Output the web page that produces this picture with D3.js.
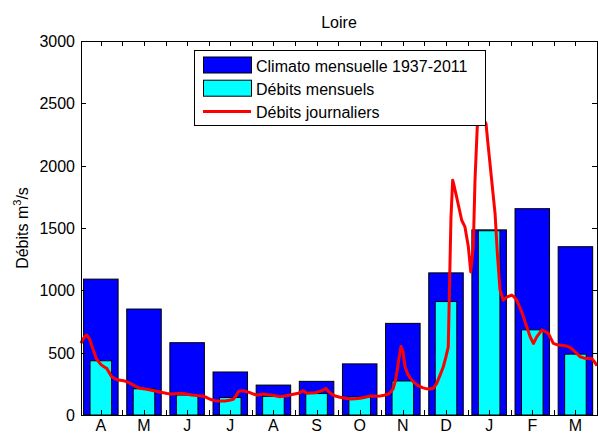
<!DOCTYPE html>
<html>
<head>
<meta charset="utf-8">
<script src="https://cdn.jsdelivr.net/npm/d3@7"></script>
<style>
  html, body { margin: 0; padding: 0; background: #fff; }
  svg { display: block; font-family: "Liberation Sans", Arial, Helvetica, sans-serif; }
</style>
</head>
<body>
<svg id="chart" width="598" height="434"></svg>
<script>
// --- DATA ---
const months = ['A', 'M', 'J', 'J', 'A', 'S', 'O', 'N', 'D', 'J', 'F', 'M'];
const climato = [1090, 850, 580, 345, 240, 270, 410, 735, 1140, 1485, 1655, 1350];
const mensuels = [435, 210, 160, 140, 150, 172, 145, 273, 910, 1478, 683, 488];
const yTicks = [0, 500, 1000, 1500, 2000, 2500, 3000];

// daily flow, day 0 = 1 April
const dailyDays = [0, 1, 2.5, 4, 5, 6.4, 7.5, 8.7, 10, 11.1, 13, 14.6, 16.5, 18.2, 20, 21.7, 24, 26.4, 29, 31.1,
    33.5, 35.9, 39, 41.7, 44, 46.5, 49, 52.3, 55, 58.2, 61, 64.2, 67, 71.2, 75, 78.3, 82, 85.4, 88, 90,
    92.5, 94.8, 98, 101.9, 105, 107.7, 109.5, 111.3, 113, 114.8, 117, 119.5, 122, 124.3, 127, 129, 132, 134.9,
    138, 140.8, 144, 147.8, 151, 153.7, 155.5, 157.2, 159.7, 162, 165.5, 168, 170.3, 173.3, 175, 177.3,
    180, 183.2, 187, 190.3, 194, 197.3, 201, 204.4, 208, 211.5, 214.5, 217.4, 219.5, 220.9, 222.5, 223.7,
    225, 226.4, 227.8, 229.2, 231, 232.7, 235.5, 238.6, 241.5, 244.5, 247, 249.2, 251.6, 254, 256.3, 258,
    259.8, 260.7, 261.7, 262.9, 263.7, 264.6, 265.5, 266.2, 267.8, 269.3, 271.6, 274, 275.7, 277.5, 278.7,
    280.3, 282.2, 284.4, 286.5, 288.1, 290.5, 292.9, 294.5, 296.4, 298.7, 299.9, 302, 304.7, 306.5, 308.2,
    311.7, 315.3, 318, 320, 322.4, 325.9, 328, 330.6, 334.1, 337.6, 340.5, 343.6, 346, 348.2, 351, 353,
    355.5, 357.7, 361.2, 363, 365];
const dailyFlow = [575, 600, 628, 641, 630, 600, 560, 521, 480, 446, 420, 400, 385, 374, 340, 307, 292, 280, 276, 272,
    262, 248, 228, 214, 210, 206, 200, 192, 186, 179, 172, 168, 170, 174, 166, 160, 156, 152, 145, 134,
    122, 115, 112, 112, 118, 126, 150, 187, 193, 195, 188, 179, 168, 160, 165, 168, 163, 160,
    152, 147, 152, 160, 168, 174, 185, 195, 174, 176, 179, 186, 195, 214, 190, 168,
    152, 142, 135, 128, 130, 134, 143, 152, 150, 152, 158, 168, 190, 214, 280, 360,
    460, 550, 507, 387, 330, 300, 260, 235, 220, 210, 208, 214, 254, 320, 387, 460,
    547, 1050, 1580, 1883, 1850, 1803, 1760, 1723, 1640, 1562, 1509, 1349, 1148, 1349, 1883,
    2310, 2440, 2380, 2337, 2150, 1883, 1616, 1300, 1002, 921, 935, 950, 962, 945, 921,
    830, 707, 620, 574, 627, 681, 672, 655, 574, 561, 558, 553, 540, 521, 490, 467,
    458, 454, 454, 430, 395];

// --- SETUP ---
const svg = d3.select('#chart');
const margin = { left: 81, right: 597, top: 41, bottom: 415 };

const x = d3.scaleLinear().domain([0.54, 12.5]).range([margin.left, margin.right]);
const xDay = d3.scaleLinear().domain([0, 365]).range([margin.left, margin.right]);
const y = d3.scaleLinear().domain([0, 3000]).range([margin.bottom, margin.top]);

// --- BARS ---
svg.append('g')
    .selectAll('rect')
    .data(climato)
    .enter().append('rect')
    .attr('x', (d, i) => x(i + 1 - 0.4))
    .attr('width', x(1.8) - x(1))
    .attr('y', d => y(d))
    .attr('height', d => y(0) - y(d))
    .attr('fill', '#0000ff')
    .attr('stroke', '#000')
    .attr('stroke-width', 1);

svg.append('g')
    .selectAll('rect')
    .data(mensuels)
    .enter().append('rect')
    .attr('x', (d, i) => x(i + 1 - 0.25))
    .attr('width', x(1.5) - x(1))
    .attr('y', d => y(d))
    .attr('height', d => y(0) - y(d))
    .attr('fill', '#00ffff')
    .attr('stroke', '#000')
    .attr('stroke-width', 1);

// --- DAILY LINE ---
const line = d3.line()
    .x((d, i) => xDay(dailyDays[i]))
    .y(d => y(d));

svg.append('path')
    .datum(dailyFlow)
    .attr('d', line)
    .attr('fill', 'none')
    .attr('stroke', '#ff0000')
    .attr('stroke-width', 3)
    .attr('stroke-linejoin', 'round');

// --- AXES ---
const axes = svg.append('g');
const halfTicks = d3.range(1, 12.51, 0.5);

// box
axes.append('rect')
    .attr('x', margin.left + 0.5)
    .attr('y', margin.top + 0.5)
    .attr('width', margin.right - margin.left)
    .attr('height', margin.bottom - margin.top)
    .attr('fill', 'none')
    .attr('stroke', '#000')
    .attr('stroke-width', 1);

// x ticks top and bottom
axes.selectAll('.xt-top')
    .data(halfTicks)
    .enter().append('line')
    .attr('x1', d => Math.round(x(d)) + 0.5).attr('x2', d => Math.round(x(d)) + 0.5)
    .attr('y1', margin.top).attr('y2', margin.top + 5)
    .attr('stroke', '#000');

axes.selectAll('.xt-bot')
    .data(halfTicks)
    .enter().append('line')
    .attr('x1', d => Math.round(x(d)) + 0.5).attr('x2', d => Math.round(x(d)) + 0.5)
    .attr('y1', margin.bottom - 5).attr('y2', margin.bottom)
    .attr('stroke', '#000');

// y ticks left and right
axes.selectAll('.yt-left')
    .data(yTicks)
    .enter().append('line')
    .attr('x1', margin.left).attr('x2', margin.left + 5)
    .attr('y1', d => Math.round(y(d)) + 0.5).attr('y2', d => Math.round(y(d)) + 0.5)
    .attr('stroke', '#000');

axes.selectAll('.yt-right')
    .data(yTicks)
    .enter().append('line')
    .attr('x1', margin.right - 5).attr('x2', margin.right)
    .attr('y1', d => Math.round(y(d)) + 0.5).attr('y2', d => Math.round(y(d)) + 0.5)
    .attr('stroke', '#000');

// y tick labels
axes.selectAll('.yl')
    .data(yTicks)
    .enter().append('text')
    .attr('x', 75)
    .attr('y', d => y(d) + 6)
    .attr('text-anchor', 'end')
    .attr('font-size', 16)
    .text(d => d);

// x tick labels (the reference crops them at the bottom edge; keep them just inside)
axes.selectAll('.xl')
    .data(months)
    .enter().append('text')
    .attr('x', (d, i) => x(i + 1))
    .attr('y', 431)
    .attr('text-anchor', 'middle')
    .attr('font-size', 16)
    .text(d => d);

// title
svg.append('text')
    .attr('x', 339)
    .attr('y', 28)
    .attr('text-anchor', 'middle')
    .attr('font-size', 16)
    .text('Loire');

// y label
const ylab = svg.append('text')
    .attr('transform', 'translate(28,' + ((margin.top + margin.bottom) / 2) + ') rotate(-90)')
    .attr('text-anchor', 'middle')
    .attr('font-size', 16);
ylab.append('tspan').text('Débits m');
ylab.append('tspan').attr('dy', -7).attr('font-size', 11).text('3');
ylab.append('tspan').attr('dy', 7).text('/s');

// --- LEGEND ---
const legend = svg.append('g');
legend.append('rect')
    .attr('x', 194.5).attr('y', 50.5)
    .attr('width', 291).attr('height', 75)
    .attr('fill', '#fff')
    .attr('stroke', '#000');

const legendItems = [
    { label: 'Climato mensuelle 1937-2011', kind: 'bar', color: '#0000ff' },
    { label: 'Débits mensuels', kind: 'bar', color: '#00ffff' },
    { label: 'Débits journaliers', kind: 'line', color: '#ff0000' }
];

legendItems.forEach((d, i) => {
    const cy = 65 + i * 23.2;
    if (d.kind === 'bar') {
        legend.append('rect')
            .attr('x', 203.5).attr('y', cy - 8)
            .attr('width', 48).attr('height', 16)
            .attr('fill', d.color)
            .attr('stroke', '#000');
    } else {
        legend.append('line')
            .attr('x1', 203).attr('x2', 251)
            .attr('y1', cy).attr('y2', cy)
            .attr('stroke', d.color)
            .attr('stroke-width', 3);
    }
    legend.append('text')
        .attr('x', 256)
        .attr('y', cy + 6.5)
        .attr('font-size', 16)
        .text(d.label);
});
</script>
</body>
</html>
